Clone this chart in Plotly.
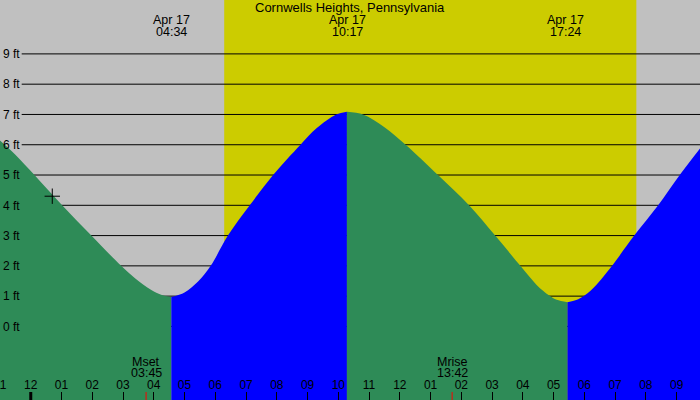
import plotly.graph_objects as go

# ---- data (hours after midnight Apr 17, feet) ----
fall1_t = [-1.0, -0.5, 0.12, 1.02, 1.97, 2.94, 3.38, 3.92, 4.24, 4.57]
fall1_h = [6.14, 5.67, 5.0, 4.0, 3.0, 2.0, 1.6, 1.2, 1.05, 0.97]
rise1_t = [4.57, 5.0, 5.44, 5.85, 6.41, 7.12, 7.88, 8.77, 9.3, 9.93, 10.28]
rise1_h = [0.97, 1.12, 1.48, 2.0, 3.0, 4.0, 5.0, 6.0, 6.55, 7.0, 7.09]
fall2_t = [10.28, 10.8, 11.5, 12.19, 13.24, 14.25, 15.1, 15.92, 16.44, 16.86, 17.1, 17.45]
fall2_h = [7.09, 7.0, 6.58, 6.0, 5.0, 4.0, 3.0, 2.0, 1.38, 1.02, 0.88, 0.8]
rise2_t = [17.45, 17.8, 18.2, 18.55, 18.9, 19.62, 20.4, 21.1, 21.8]
rise2_h = [0.8, 0.9, 1.18, 1.56, 2.0, 3.0, 4.0, 5.0, 5.93]

tide_times = [4.567, 10.283, 17.4]
tide_labels = ["04:34", "10:17", "17:24"]
tide_date = "Apr 17"

sunrise, sunset = 6.29, 19.69
moon_times = [3.75, 13.7]
moon_names = ["Mset", "Mrise"]
moon_labels = ["03:45", "13:42"]

now_t, now_h = 0.7, 4.3

hour_vals = list(range(-1, 22))
hour_labels = ["11", "12", "01", "02", "03", "04", "05", "06", "07", "08", "09", "10",
               "11", "12", "01", "02", "03", "04", "05", "06", "07", "08", "09"]
ft_vals = list(range(0, 10))
ft_labels = [f"{v} ft" for v in ft_vals]

title = "Cornwells Heights, Pennsylvania"

GRAY = "#c0c0c0"
YELLOW = "#cccc00"
GREEN = "#2e8b57"
BLUE = "#0000ff"
FONT = "Liberation Sans"
BASE = -3.0

fig = go.Figure()

segments = [(fall1_t, fall1_h, GREEN), (rise1_t, rise1_h, BLUE),
            (fall2_t, fall2_h, GREEN), (rise2_t, rise2_h, BLUE)]
for t, h, col in segments:
    fig.add_trace(go.Scatter(x=[t[0], t[-1]], y=[BASE, BASE], mode="lines",
                             line=dict(width=0, color=col), hoverinfo="skip",
                             showlegend=False))
    fig.add_trace(go.Scatter(x=t, y=h, mode="lines", fill="tonexty",
                             fillcolor=col,
                             line=dict(width=0, color=col, shape="spline", smoothing=1.0),
                             hoverinfo="skip", showlegend=False))

fig.add_trace(go.Scatter(x=[now_t], y=[now_h], mode="markers",
                         marker=dict(symbol="cross-thin", size=11,
                                     line=dict(width=1, color="black")),
                         hoverinfo="skip", showlegend=False))

shapes = [dict(type="rect", xref="x", yref="paper", x0=sunrise, x1=sunset,
               y0=0, y1=1, fillcolor=YELLOW, line=dict(width=0), layer="below")]
for v in ft_vals:
    shapes.append(dict(type="line", xref="paper", yref="y", x0=0.031, x1=1,
                       y0=v, y1=v, line=dict(color="black", width=1), layer="below"))
shapes.append(dict(type="line", xref="x", yref="paper", x0=0, x1=0, y0=0, y1=0.02,
                   line=dict(color="black", width=3)))
for mt in moon_times:
    shapes.append(dict(type="line", xref="x", yref="paper", x0=mt, x1=mt, y0=0, y1=0.02,
                       line=dict(color="red", width=1)))

annotations = [dict(text=title, xref="paper", yref="paper", x=0.5, y=1 - 7.5 / 400,
                    showarrow=False, xanchor="center", yanchor="middle",
                    font=dict(family=FONT, size=13, color="black"))]
for tt, tl in zip(tide_times, tide_labels):
    annotations.append(dict(text=tide_date, xref="x", yref="paper", x=tt, y=1 - 20 / 400,
                            showarrow=False, xanchor="center", yanchor="middle",
                            font=dict(family=FONT, size=12.5, color="black")))
    annotations.append(dict(text=tl, xref="x", yref="paper", x=tt, y=1 - 32 / 400,
                            showarrow=False, xanchor="center", yanchor="middle",
                            font=dict(family=FONT, size=12.5, color="black")))
for mt, mn, ml in zip(moon_times, moon_names, moon_labels):
    annotations.append(dict(text=mn, xref="x", yref="paper", x=mt, y=1 - 361.5 / 400,
                            showarrow=False, xanchor="center", yanchor="middle",
                            font=dict(family=FONT, size=12.5, color="black")))
    annotations.append(dict(text=ml, xref="x", yref="paper", x=mt, y=1 - 373 / 400,
                            showarrow=False, xanchor="center", yanchor="middle",
                            font=dict(family=FONT, size=12.5, color="black")))
# edge tick label that the axis hides because it overflows the plot
annotations.append(dict(text=hour_labels[0], xref="x", yref="paper", x=hour_vals[0],
                        y=1 - 385 / 400, showarrow=False, xanchor="center",
                        yanchor="middle", font=dict(family=FONT, size=12, color="black")))

fig.update_layout(
    width=700, height=400, margin=dict(l=0, r=0, t=0, b=0),
    plot_bgcolor=GRAY, paper_bgcolor=GRAY,
    shapes=shapes, annotations=annotations,
    xaxis=dict(range=[-1.0, 21.76], tickvals=hour_vals, ticktext=hour_labels,
               ticks="inside", ticklen=8, tickcolor="black", tickwidth=1,
               ticklabelposition="inside", showgrid=False, zeroline=False,
               showline=False, tickfont=dict(family=FONT, size=12, color="black")),
    yaxis=dict(range=[-2.43, 10.78], tickvals=ft_vals, ticktext=ft_labels,
               ticks="", ticklabelposition="inside", showgrid=False, zeroline=False,
               showline=False, tickfont=dict(family=FONT, size=12, color="black")),
)

fig.write_html("out.html")
